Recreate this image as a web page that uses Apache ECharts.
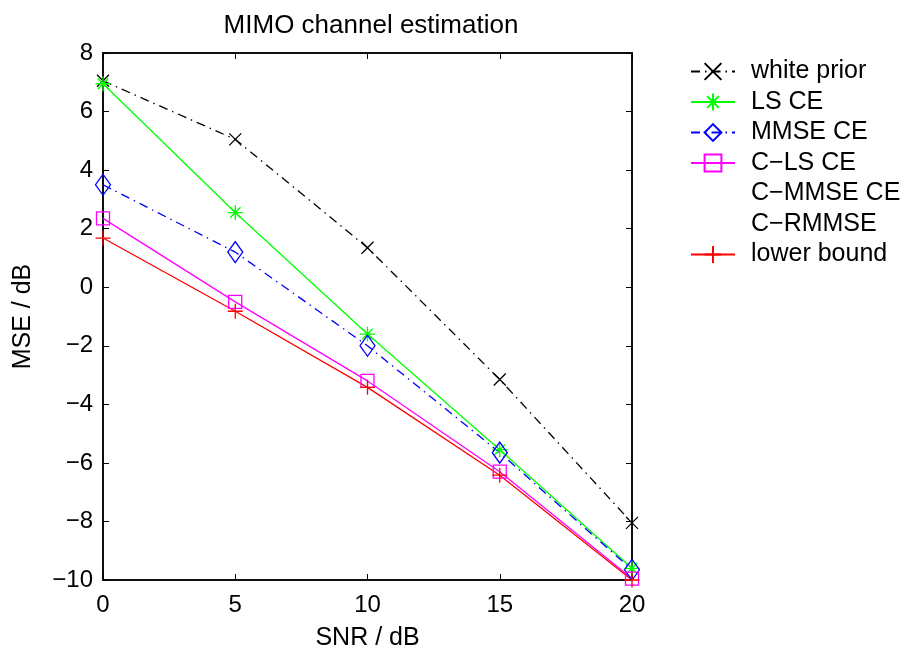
<!DOCTYPE html>
<html>
<head>
<meta charset="utf-8">
<script src="https://cdn.jsdelivr.net/npm/echarts@6/dist/echarts.min.js"></script>
<style>
  html, body { margin: 0; padding: 0; background: #fff; }
  #chart { width: 904px; height: 652px; }
</style>
</head>
<body>
<div id="chart"></div>
<script>
// SNR points (dB)
const snr = [0, 5, 10, 15, 20];
// MSE values (dB)
const whitePrior = [7.05, 5.05, 1.35, -3.15, -8.05];
const lsCE = [6.95, 2.55, -1.6, -5.55, -9.6];
const mmseCE = [3.5, 1.2, -2.0, -5.65, -9.65];
const clsCE = [2.35, -0.5, -3.2, -6.3, -9.95];
const lowerBound = [1.68, -0.82, -3.42, -6.42, -10];
const xTicks = [0, 5, 10, 15, 20];
const yTicks = [-10, -8, -6, -4, -2, 0, 2, 4, 6, 8];

const font = 'Liberation Sans, Arial, Helvetica, sans-serif';

const sym = {
  cross: 'path://M0,0L10,10M10,0L0,10',
  star: 'path://M5,0L5,10M0,5L10,5M1.5,1.5L8.5,8.5M8.5,1.5L1.5,8.5',
  diamond: 'path://M5,0L10,7L5,14L0,7Z',
  square: 'path://M0,0L10,0L10,10L0,10Z',
  plus: 'path://M5,0L5,10M0,5L10,5'
};

function pairs(ys) {
  return snr.map((x, i) => [x, ys[i]]);
}

function lineSeries(name, ys, color, type, symbol, size) {
  return {
    name: name,
    type: 'line',
    data: pairs(ys),
    symbol: symbol,
    symbolSize: size,
    showAllSymbol: true,
    lineStyle: { color: color, width: 1.3, type: type },
    itemStyle: { color: 'none', borderColor: color, borderWidth: 1.3 },
    emphasis: { disabled: true },
    animation: false,
    z: 3
  };
}

const dashDot = [9, 5, 1.5, 5];

const chart = echarts.init(document.getElementById('chart'));
chart.setOption({
  backgroundColor: '#fff',
  title: {
    text: 'MIMO channel estimation',
    left: 366, top: 7, textAlign: 'center',
    textStyle: { fontFamily: font, fontSize: 26, fontWeight: 'normal', color: '#000', lineHeight: 28 }
  },
  legend: {
    orient: 'vertical',
    left: 685, top: 54,
    itemWidth: 44, itemHeight: 21, itemGap: 5.5,
    selectedMode: false,
    textStyle: { fontFamily: font, fontSize: 25, color: '#000', lineHeight: 25, padding: [0, 0, 0, 11] },
    data: ['white prior', 'LS CE', 'MMSE CE', 'C\u2212LS CE', 'C\u2212MMSE CE', 'C\u2212RMMSE', 'lower bound']
  },
  grid: {
    left: 103, right: 272, top: 53, bottom: 72,
    containLabel: false, outerBoundsMode: 'none',
    show: true, borderColor: '#000', borderWidth: 1.5, backgroundColor: '#fff'
  },
  xAxis: [{
    type: 'value', min: 0, max: 20, interval: 5,
    name: 'SNR / dB', nameLocation: 'middle', nameGap: 46,
    nameTextStyle: { fontFamily: font, fontSize: 25, color: '#000' },
    axisLine: { show: true, onZero: false, lineStyle: { color: '#000', width: 1.5 } },
    axisTick: { show: true, inside: true, length: 6, lineStyle: { color: '#000' } },
    axisLabel: { fontFamily: font, fontSize: 24, color: '#000', margin: 13,
      formatter: v => xTicks.includes(v) ? String(v) : '' },
    splitLine: { show: false }
  }, {
    type: 'value', min: 0, max: 20, interval: 5, position: 'top',
    axisLine: { show: true, onZero: false, lineStyle: { color: '#000', width: 1.5 } },
    axisTick: { show: true, inside: true, length: 6, lineStyle: { color: '#000' } },
    axisLabel: { show: false }, splitLine: { show: false }
  }],
  yAxis: [{
    type: 'value', min: -10, max: 8, interval: 2,
    name: 'MSE / dB', nameLocation: 'middle', nameGap: 67,
    nameTextStyle: { fontFamily: font, fontSize: 25, color: '#000' },
    axisLine: { show: true, onZero: false, lineStyle: { color: '#000', width: 1.5 } },
    axisTick: { show: true, inside: true, length: 6, lineStyle: { color: '#000' } },
    axisLabel: { fontFamily: font, fontSize: 24, color: '#000', margin: 10,
      formatter: v => yTicks.includes(v) ? (v < 0 ? '\u2212' + Math.abs(v) : String(v)) : '' },
    splitLine: { show: false }
  }, {
    type: 'value', min: -10, max: 8, interval: 2, position: 'right',
    axisLine: { show: true, onZero: false, lineStyle: { color: '#000', width: 1.5 } },
    axisTick: { show: true, inside: true, length: 6, lineStyle: { color: '#000' } },
    axisLabel: { show: false }, splitLine: { show: false }
  }],
  series: [
    lineSeries('white prior', whitePrior, '#000000', dashDot, sym.cross, 12),
    lineSeries('LS CE', lsCE, '#00ff00', 'solid', sym.star, 15),
    lineSeries('MMSE CE', mmseCE, '#0000ff', dashDot, sym.diamond, [15, 21]),
    lineSeries('C\u2212LS CE', clsCE, '#ff00ff', 'solid', sym.square, 13),
    { name: 'C\u2212MMSE CE', type: 'line', data: [], symbol: 'none',
      lineStyle: { opacity: 0 }, itemStyle: { opacity: 0 } },
    { name: 'C\u2212RMMSE', type: 'line', data: [], symbol: 'none',
      lineStyle: { opacity: 0 }, itemStyle: { opacity: 0 } },
    lineSeries('lower bound', lowerBound, '#ff0000', 'solid', sym.plus, 15)
  ]
});
</script>
</body>
</html>
